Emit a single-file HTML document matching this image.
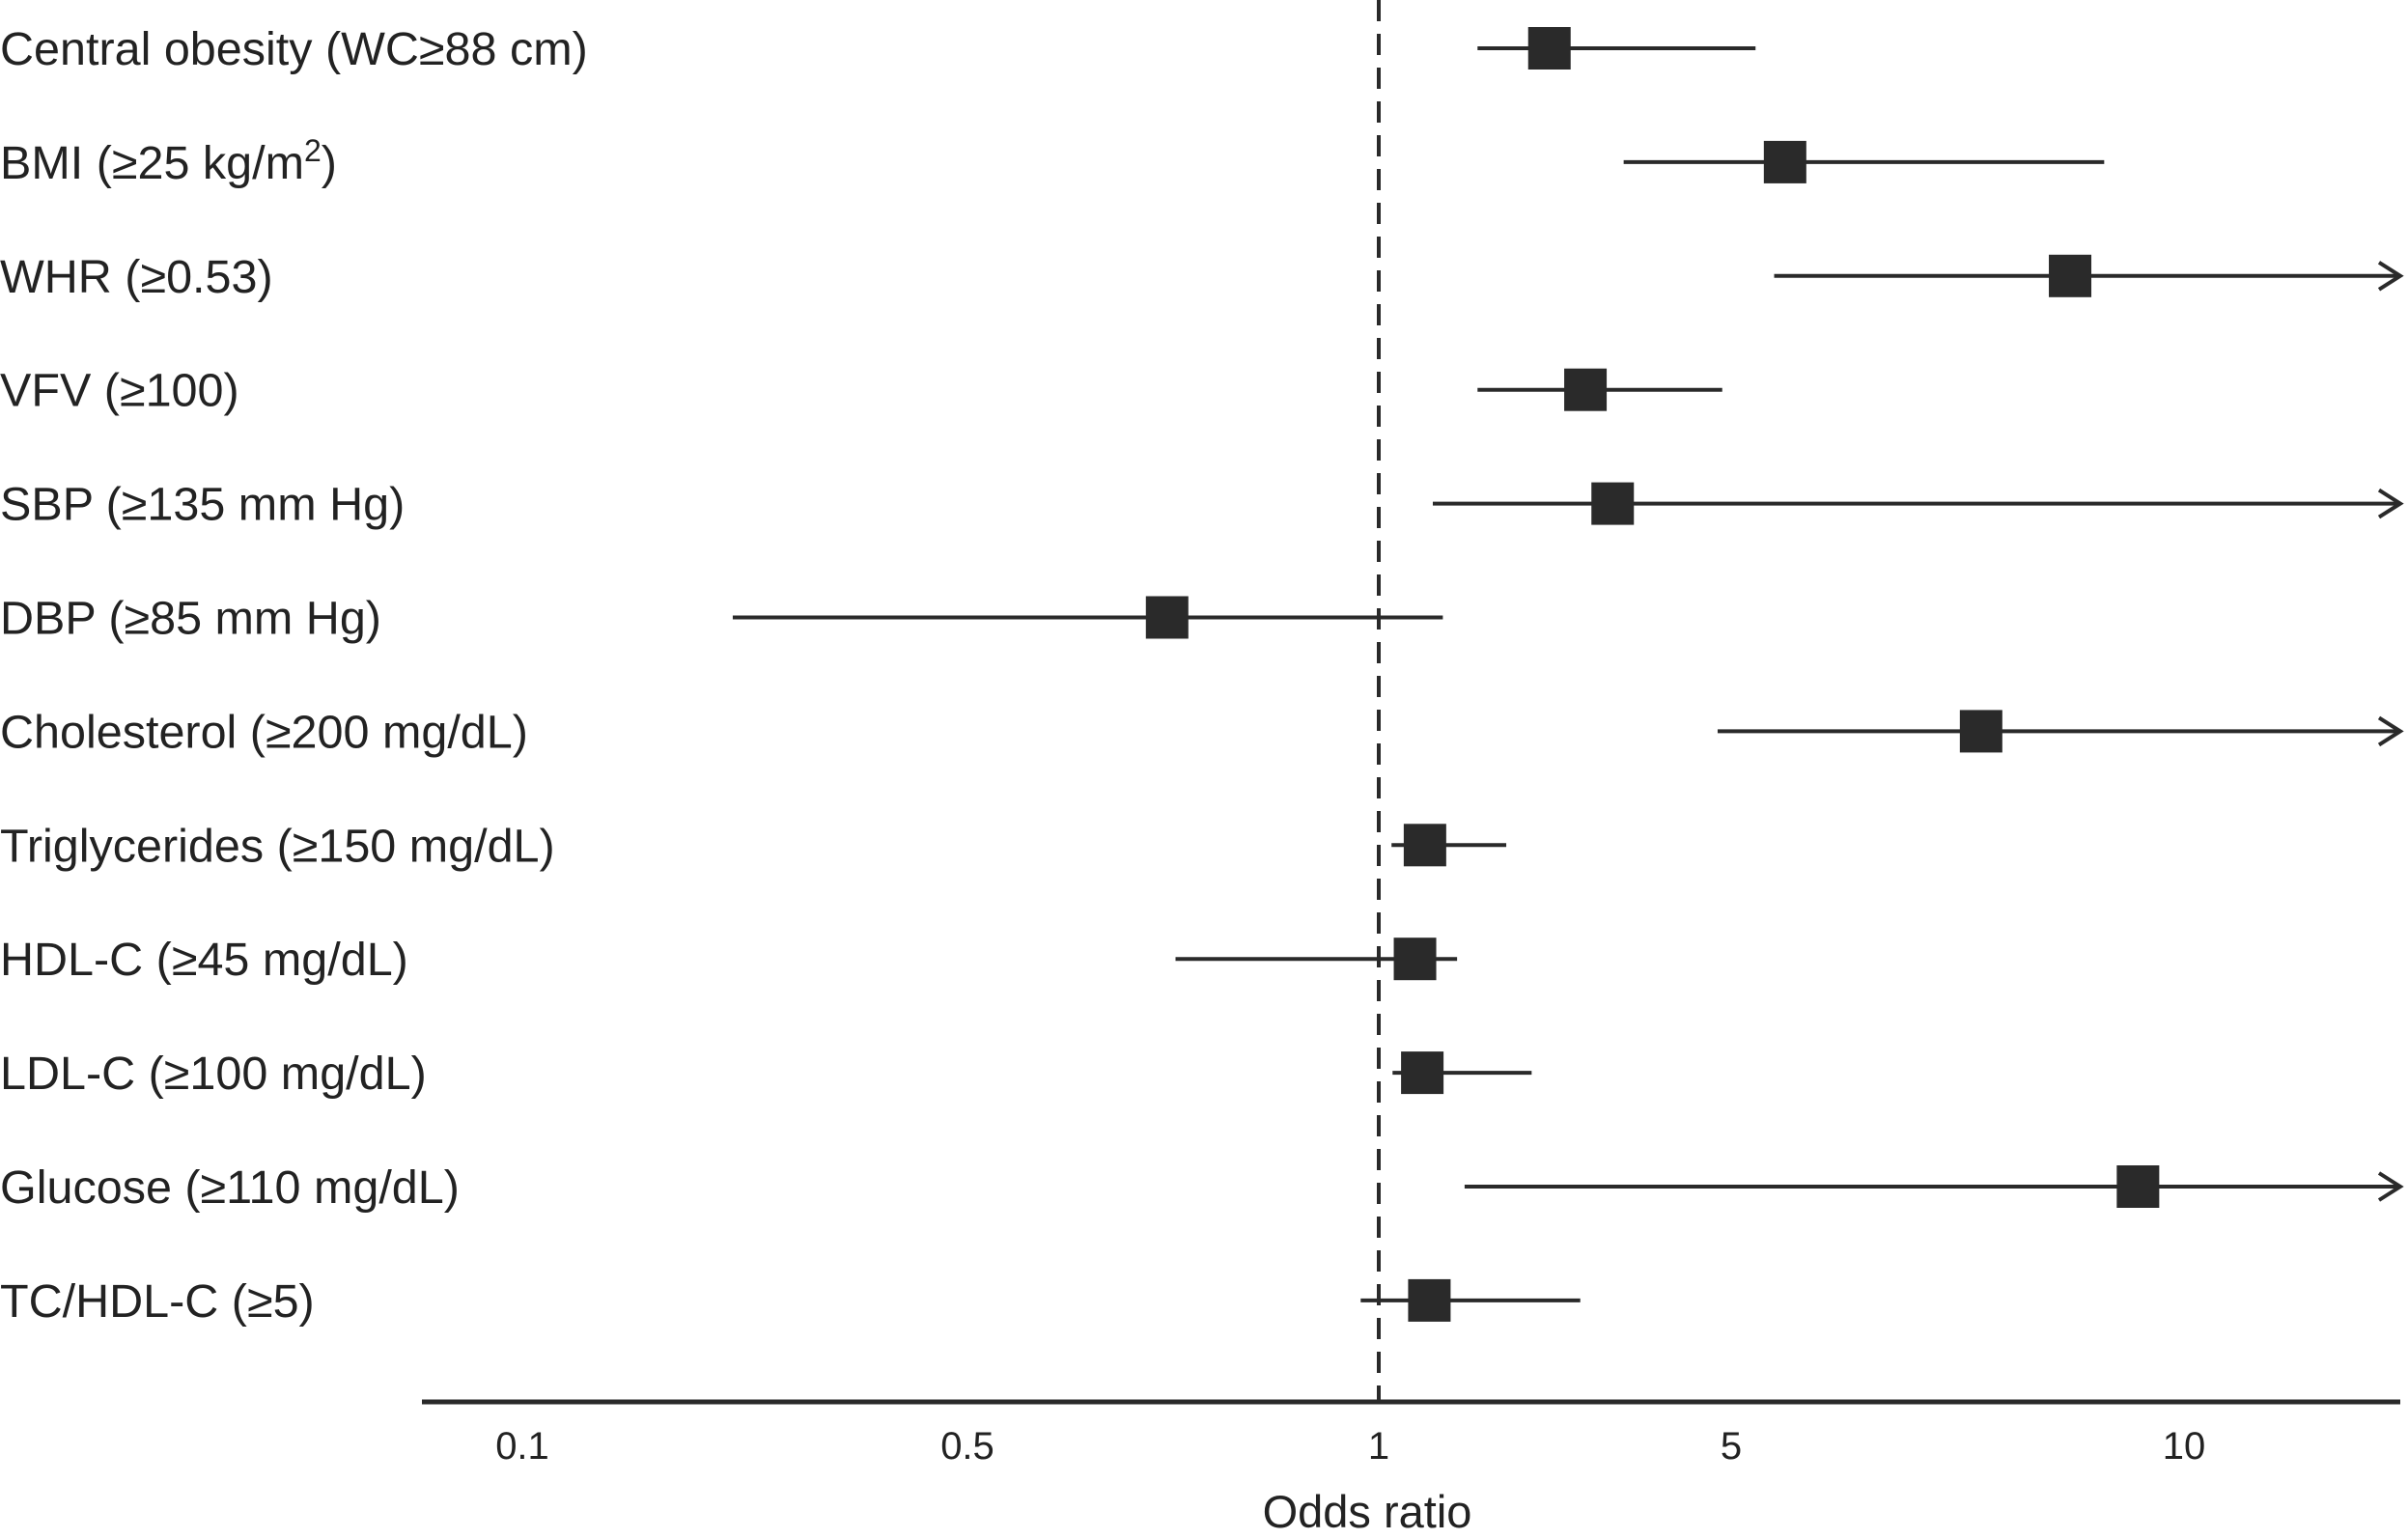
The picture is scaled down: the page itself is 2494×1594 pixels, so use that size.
<!DOCTYPE html>
<html><head><meta charset="utf-8"><style>
html,body{margin:0;padding:0;background:#fff;}
svg{display:block;font-family:"Liberation Sans",Arial,sans-serif;}
</style></head><body>
<svg id="chart" width="2494" height="1594" viewBox="0 0 2494 1594" xmlns="http://www.w3.org/2000/svg"></svg>
<script>
const categories = ["Central obesity (WC\u226588 cm)","BMI (\u226525 kg/m2)","WHR (\u22650.53)","VFV (\u2265100)","SBP (\u2265135 mm Hg)","DBP (\u226585 mm Hg)","Cholesterol (\u2265200 mg/dL)","Triglycerides (\u2265150 mg/dL)","HDL-C (\u226545 mg/dL)","LDL-C (\u2265100 mg/dL)","Glucose (\u2265110 mg/dL)","TC/HDL-C (\u22655)"];
const oddsRatio = [2.18,5.43,8.4,2.57,2.91,0.70,7.33,1.235,1.18,1.22,9.32,1.26];
const ciLower = [1.57,3.06,5.34,1.57,1.28,0.214,4.7,1.06,0.71,1.065,1.48,0.97];
const ciUpper = [5.19,8.85,20,4.8,20,1.34,20,1.79,1.43,2.01,20,2.51];
const tickValues = [0.1,0.5,1,5,10];
const tickLabels = ["0.1","0.5","1","5","10"];

const NS="http://www.w3.org/2000/svg";
const svg=document.getElementById('chart');
const tickPx=[541,1002,1428,1793,2262];
const axisLeft=437, axisRight=2486, axisY=1452;
function xScale(v){
  const lv=Math.log10(v), lt=tickValues.map(Math.log10);
  let i=0;
  if(lv<=lt[0]) i=0; else if(lv>=lt[lt.length-1]) i=lt.length-2;
  else { while(i<lt.length-2 && lv>lt[i+1]) i++; }
  const p=tickPx[i]+(lv-lt[i])/(lt[i+1]-lt[i])*(tickPx[i+1]-tickPx[i]);
  return Math.max(axisLeft,Math.min(axisRight,p));
}
function yScale(i){ return 50 + i*117.9; }
function mk(tag,attrs){const e=document.createElementNS(NS,tag);for(const k in attrs)e.setAttribute(k,attrs[k]);svg.appendChild(e);return e;}

const ref=mk('line',{x1:xScale(1),x2:xScale(1),y1:0,y2:axisY,stroke:'#2a2a2a','stroke-width':4,'stroke-dasharray':'22 13'});



const ax=mk('line',{x1:axisLeft,x2:axisRight,y1:axisY,y2:axisY,stroke:'#2a2a2a','stroke-width':5});


tickValues.forEach((v,i)=>{
  const t=mk('text',{x:xScale(v),y:1511,'text-anchor':'middle','font-size':40,fill:'#222'});
  t.textContent=tickLabels[i];
  
  
});
const xt=mk('text',{x:1416,y:1582,'text-anchor':'middle','font-size':47,fill:'#222'});
xt.textContent='Odds ratio';



categories.forEach((c,i)=>{
  const y=yScale(i);
  const lab=mk('text',{x:0,y:y+17,'font-size':48.5,fill:'#222'});
  
  
  if(c.indexOf('m2')>=0){
    lab.textContent='BMI (\u226525 kg/m';
    const s=document.createElementNS(NS,'tspan');s.setAttribute('dy','-18');s.setAttribute('font-size','32');s.textContent='2';lab.appendChild(s);
    const s2=document.createElementNS(NS,'tspan');s2.setAttribute('dy','18');s2.textContent=')';lab.appendChild(s2);
  } else lab.textContent=c;
  const x1=xScale(ciLower[i]), x2=xScale(ciUpper[i]);
  const ln=mk('line',{x1:x1,x2:x2,y1:y,y2:y,stroke:'#2a2a2a','stroke-width':4});
  
  
  if(x2>=axisRight){
    const ar=mk('path',{d:`M${x2-22},${y-14} L${x2},${y} L${x2-22},${y+14}`,fill:'none',stroke:'#2a2a2a','stroke-width':4});
    
    
  }
  const px=xScale(oddsRatio[i]);
  const sq=mk('rect',{x:px-22,y:y-22,width:44,height:44,fill:'#2a2a2a'});
  
  
});
</script>
</body></html>
